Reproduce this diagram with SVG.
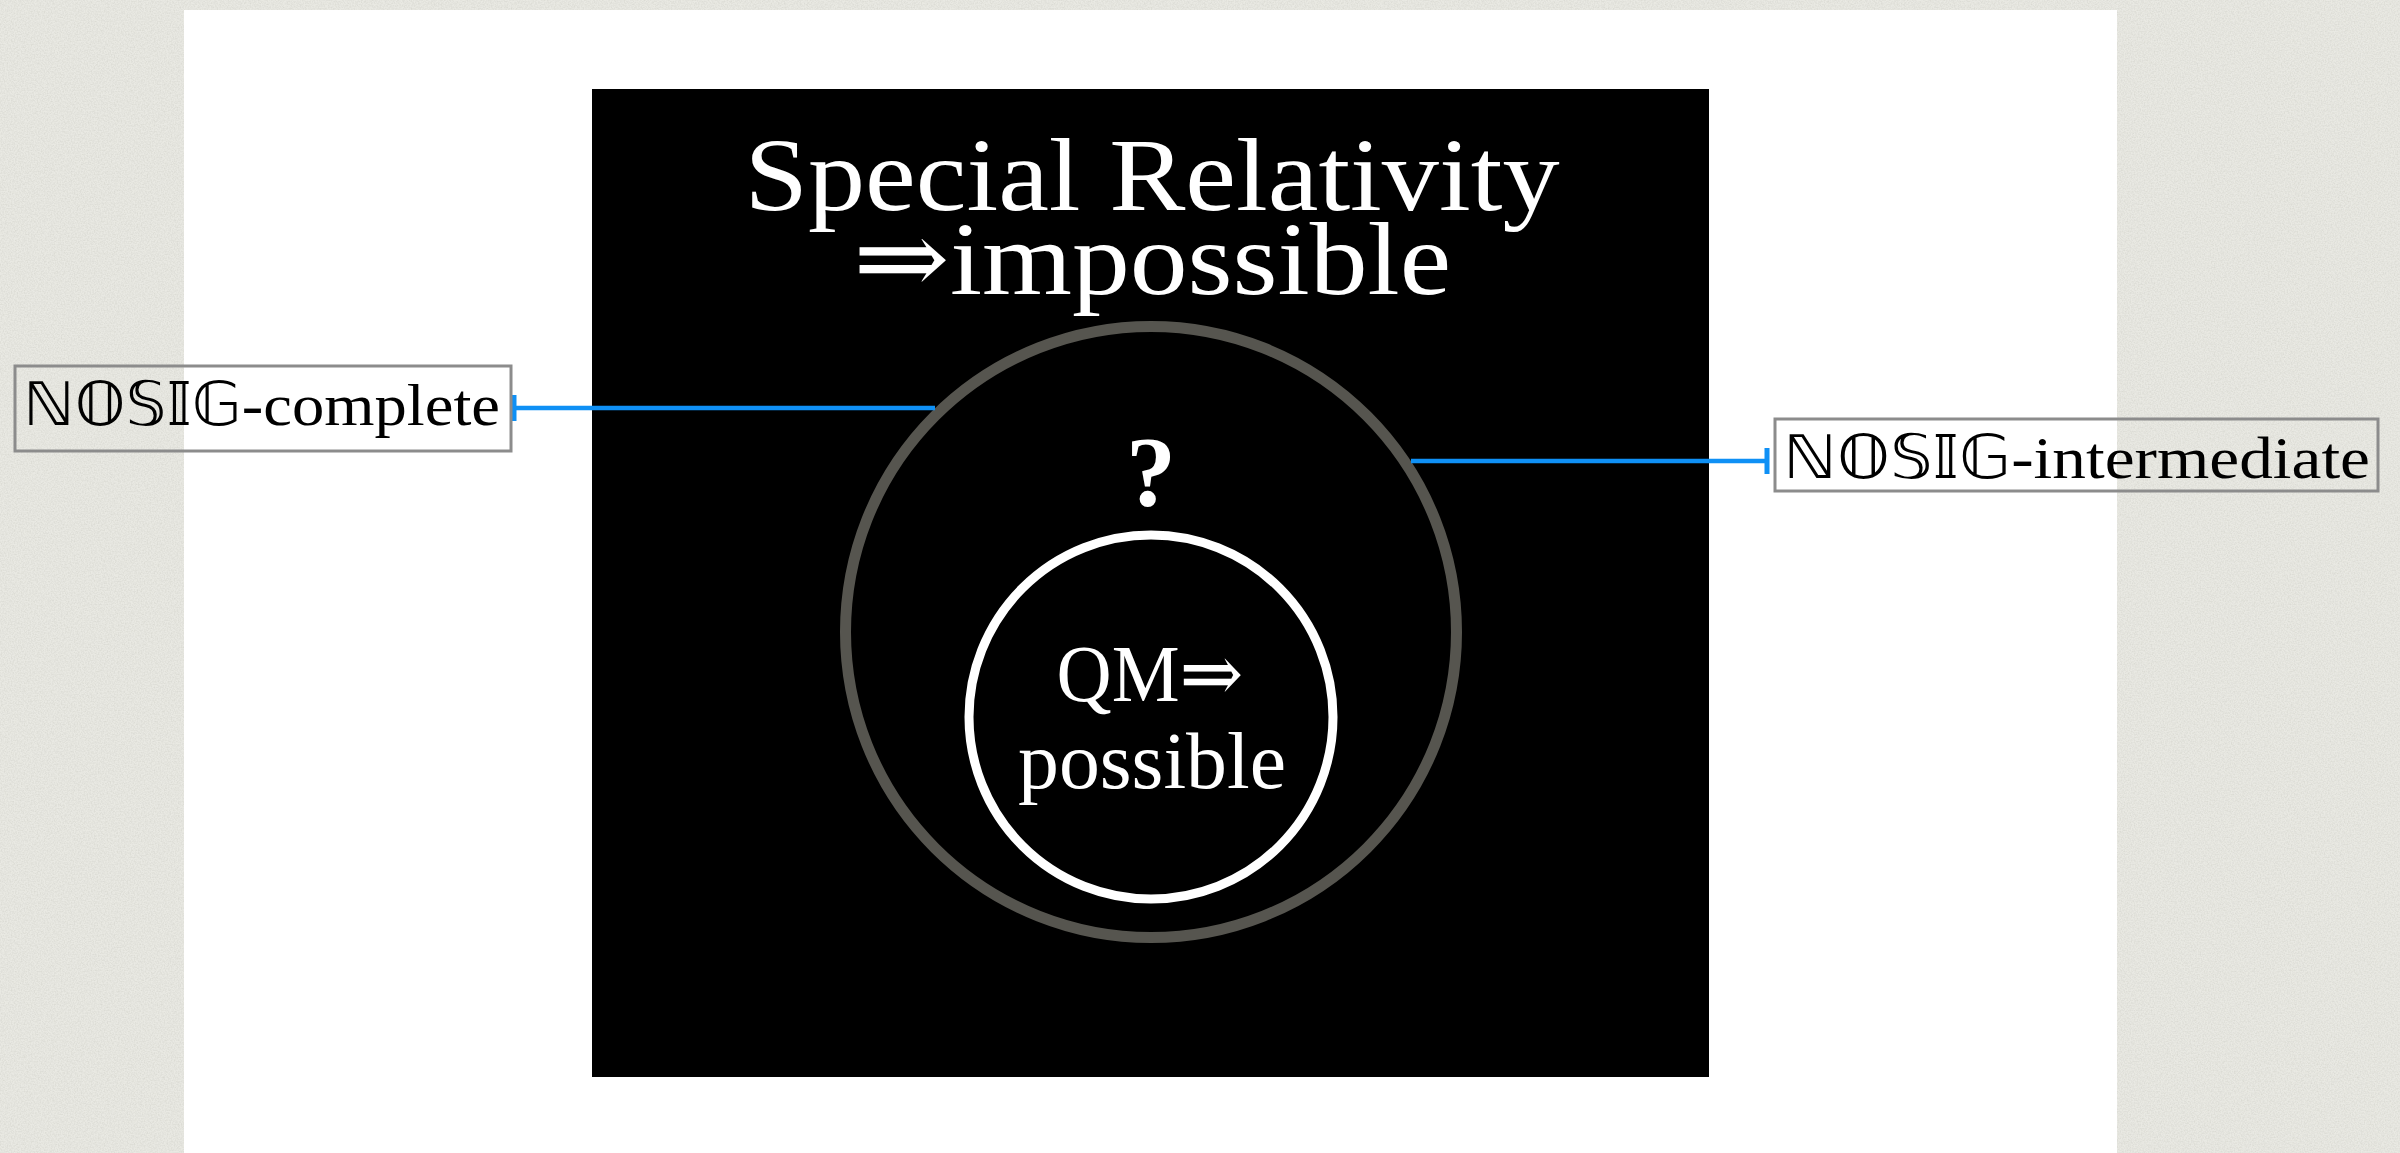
<svg xmlns="http://www.w3.org/2000/svg" width="2400" height="1153" viewBox="0 0 2400 1153">
  <style>
    .serif { font-family: "Liberation Serif", "DejaVu Serif", serif; }
    .ds { font-family: "DejaVu Sans", "Noto Sans", sans-serif; font-weight: normal; }
    .white { fill: #ffffff; }
    .label { fill: #000000; font-size: 60px; }
    .box { fill: none; stroke: #8c8c8c; stroke-width: 3; }
    .conn { stroke: #0f90f5; stroke-width: 4.5; fill: none; }
  </style>
  <defs>
    <filter id="paper" x="0" y="0" width="100%" height="100%" filterUnits="userSpaceOnUse">
      <feTurbulence type="fractalNoise" baseFrequency="0.7" numOctaves="3" seed="3" result="n"/>
      <feColorMatrix in="n" type="matrix" values="0 0 0 0 0.6  0 0 0 0 0.6  0 0 0 0 0.55  0 0 0 0.9 -0.3" result="c"/>
      <feComposite in="c" in2="SourceGraphic" operator="in"/>
    </filter>
    <marker id="tee" markerWidth="6" markerHeight="26" refX="3" refY="13" orient="auto" markerUnits="userSpaceOnUse">
      <rect x="0.5" y="0" width="5" height="26" fill="#0f90f5"/>
    </marker>
  </defs>

  <!-- background -->
  <rect x="0" y="0" width="2400" height="1153" fill="#e9e9e3"/>
  <rect x="0" y="0" width="2400" height="1153" fill="#e9e9e3" filter="url(#paper)"/>
  <rect x="184" y="10" width="1933" height="1143" fill="#ffffff"/>

  <!-- black panel -->
  <g id="panel">
    <rect x="592" y="89" width="1117" height="988" fill="#000000"/>
    <text class="serif white" x="1152" y="210" font-size="104" text-anchor="middle" textLength="815" lengthAdjust="spacingAndGlyphs">Special Relativity</text>
    <text class="serif white" x="1152" y="294" font-size="104" text-anchor="middle" textLength="598" lengthAdjust="spacingAndGlyphs">⇒impossible</text>
  </g>

  <!-- outer circle -->
  <g id="outer-circle">
    <circle cx="1151" cy="632" r="305.5" fill="none" stroke="#56554f" stroke-width="11"/>
    <text class="serif white" x="1151" y="505" font-size="100" font-weight="bold" text-anchor="middle">?</text>
  </g>

  <!-- inner circle -->
  <g id="inner-circle">
    <circle cx="1151" cy="717" r="182" fill="none" stroke="#ffffff" stroke-width="9"/>
    <text class="serif white" x="1150" y="701" font-size="80" text-anchor="middle" textLength="187" lengthAdjust="spacingAndGlyphs">QM⇒</text>
    <text class="serif white" x="1152" y="788" font-size="80" text-anchor="middle" textLength="268" lengthAdjust="spacingAndGlyphs">possible</text>
  </g>

  <!-- connectors -->
  <g id="connectors">
    <line class="conn" x1="935" y1="408" x2="514" y2="408" marker-end="url(#tee)"/>
    <line class="conn" x1="1411" y1="461" x2="1767" y2="461" marker-end="url(#tee)"/>
  </g>

  <!-- labels -->
  <g id="label-complete">
    <rect class="box" x="15" y="366" width="496" height="85"/>
    <text class="serif label" x="23" y="425" textLength="477" lengthAdjust="spacingAndGlyphs"><tspan class="ds">ℕ𝕆𝕊𝕀𝔾</tspan>-complete</text>
  </g>
  <g id="label-intermediate">
    <rect class="box" x="1775" y="419" width="603" height="72"/>
    <text class="serif label" x="1783" y="478" textLength="587" lengthAdjust="spacingAndGlyphs"><tspan class="ds">ℕ𝕆𝕊𝕀𝔾</tspan>-intermediate</text>
  </g>
</svg>
